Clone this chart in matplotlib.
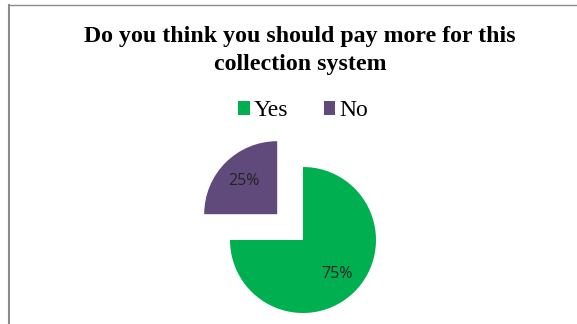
import matplotlib
matplotlib.use("Agg")
import matplotlib.pyplot as plt
from matplotlib.lines import Line2D

# Survey answers
labels = ["Yes", "No"]
shares = [75, 25]
colors = ["#00B050", "#604A7B"]
explode = [0, 0.5]

title_lines = ["Do you think you should pay more for this", "collection system"]

W, H = 577, 324
fig = plt.figure(figsize=(W / 100, H / 100), dpi=100)

# frame lines (top + left only, like the source)
fig.add_artist(Line2D([8.5 / W, 1], [1 - 5 / H, 1 - 5 / H], color="#8c8c8c", lw=1.0))
fig.add_artist(Line2D([8.5 / W, 8.5 / W], [0, 1 - 5 / H], color="#8c8c8c", lw=1.5))

# title
serif = ["Liberation Serif", "DejaVu Serif"]
fig.text(300 / W, 1 - 42 / H, title_lines[0], ha="center", va="baseline",
         fontsize=17.2, fontweight="bold", family=serif)
fig.text(300 / W, 1 - 70 / H, title_lines[1], ha="center", va="baseline",
         fontsize=17.2, fontweight="bold", family=serif)

# pie axes: 1 data unit ~ 73 px, centre of the pie at (303, 240)
r_px = 73
cx, cy = 303, H - 240
ax = fig.add_axes([(cx - 2 * r_px) / W, (cy - 2 * r_px) / H, 4 * r_px / W, 4 * r_px / H])
wedges, _, autotexts = ax.pie(
    shares, colors=colors, explode=explode, startangle=90, counterclock=False,
    autopct="%d%%", pctdistance=0.65, radius=1,
    wedgeprops=dict(linewidth=0),
    textprops=dict(fontsize=11.5, color="#222222", family=["Open Sans", "DejaVu Sans"]),
)
ax.set_xlim(-2, 2)
ax.set_ylim(-2, 2)
ax.set_aspect("equal")
ax.axis("off")

fig.legend(wedges, labels, loc="center", bbox_to_anchor=(303 / W, 1 - 111 / H),
           ncol=2, frameon=False, prop=dict(family=serif, size=17),
           handlelength=0.5, handleheight=0.5, handletextpad=0.15, columnspacing=1.5)

fig.savefig("out.png", dpi=100)
